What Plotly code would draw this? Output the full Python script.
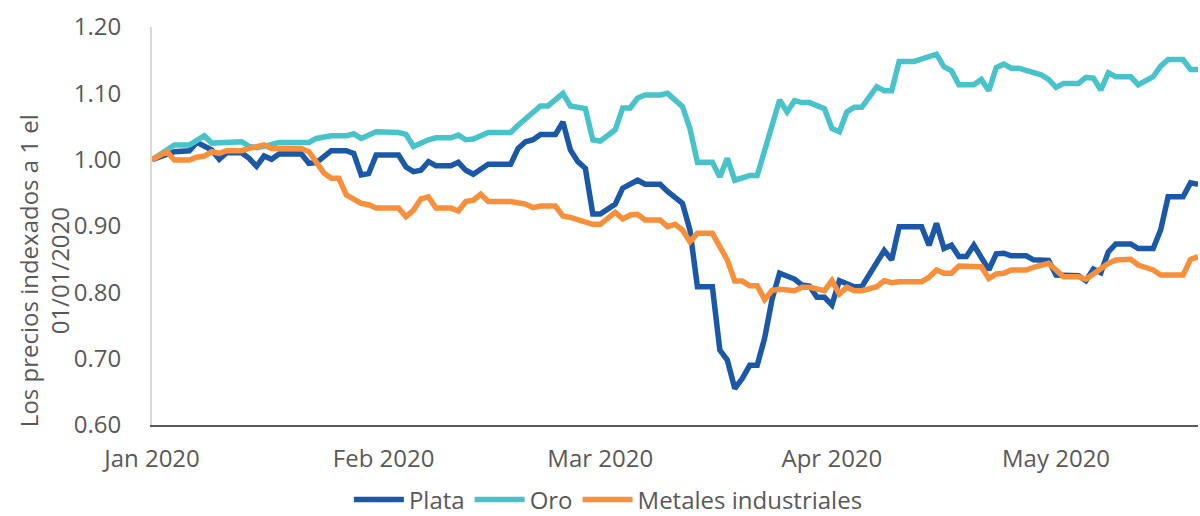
import pandas as pd
import plotly.graph_objects as go

BASE = "2020-01-01"

# Day offsets from 1 Jan 2020 and index values (1 = 01/01/2020)
plata_days = [0, 3, 5, 6, 8, 9, 10, 12, 13, 14, 15, 16, 17, 20, 21, 22, 24, 26, 27, 28, 29, 30, 33, 34, 35, 36, 37, 38, 40,
              41, 42, 43, 45, 48, 49, 50, 51, 52, 54, 55, 56, 57, 58, 59, 60, 62, 63, 64, 65, 66, 68, 69, 70, 71, 72, 73,
              75, 76, 77, 78, 79, 80, 81, 82, 83, 84, 86, 87, 88, 89, 90, 91, 92, 94, 95, 97, 98, 99, 100, 103, 104, 105,
              106, 107, 108, 109, 110, 112, 113, 114, 115, 117, 118, 120, 121, 124, 125, 126, 127, 128, 129, 131, 132,
              134, 135, 136, 138, 139, 140]
plata_vals = [1.000, 1.012, 1.0135, 1.026, 1.0146, 1.0006, 1.0105, 1.0105, 1.002, 0.990, 1.0055, 1.0006, 1.0086, 1.0086,
              0.9945, 0.9955, 1.0135, 1.0135, 1.0096, 0.977, 0.979, 1.007, 1.007, 0.989, 0.982, 0.984, 0.997, 0.991, 0.991,
              0.996, 0.984, 0.978, 0.993, 0.993, 1.017, 1.027, 1.030, 1.038, 1.038, 1.057, 1.0146, 0.997, 0.987, 0.918,
              0.918, 0.933, 0.957, 0.962, 0.969, 0.963, 0.963, 0.952, 0.944, 0.934, 0.894, 0.8085, 0.8085, 0.713, 0.698,
              0.655, 0.670, 0.690, 0.690, 0.731, 0.790, 0.829, 0.820, 0.811, 0.8095, 0.7925, 0.7925, 0.781, 0.8175,
              0.8085, 0.8085, 0.846, 0.863, 0.849, 0.899, 0.899, 0.871, 0.904, 0.866, 0.871, 0.854, 0.854, 0.871, 0.834,
              0.858, 0.859, 0.855, 0.855, 0.849, 0.848, 0.826, 0.825, 0.8175, 0.835, 0.8296, 0.861, 0.873, 0.873, 0.866,
              0.866, 0.894, 0.944, 0.944, 0.965, 0.963]

oro_days = [0, 3, 5, 7, 8, 10, 12, 13, 14, 15, 17, 21, 22, 24, 26, 27, 28, 30, 33, 34, 35, 37, 38, 40, 41, 42, 43, 45, 48,
            49, 50, 52, 53, 55, 56, 57, 58, 59, 60, 62, 63, 64, 65, 66, 68, 69, 71, 72, 73, 75, 76, 77, 78, 80, 81, 84,
            85, 86, 87, 88, 90, 91, 92, 93, 94, 95, 97, 98, 99, 100, 102, 105, 106, 107, 108, 110, 111, 112, 113, 114,
            115, 116, 118, 119, 120, 121, 122, 124, 125, 126, 127, 128, 129, 131, 132, 133, 134, 135, 136, 138, 139, 140]
oro_vals = [1.000, 1.022, 1.022, 1.036, 1.025, 1.027, 1.027, 1.020, 1.018, 1.020, 1.026, 1.026, 1.032, 1.036, 1.036, 1.039,
            1.032, 1.042, 1.041, 1.038, 1.020, 1.030, 1.033, 1.033, 1.037, 1.030, 1.031, 1.041, 1.041, 1.052, 1.062,
            1.081, 1.081, 1.100, 1.081, 1.078, 1.077, 1.030, 1.028, 1.045, 1.078, 1.078, 1.093, 1.0975, 1.0975, 1.100,
            1.080, 1.047, 0.996, 0.996, 0.974, 1.002, 0.969, 0.976, 0.976, 1.090, 1.072, 1.089, 1.086, 1.086, 1.077,
            1.047, 1.042, 1.072, 1.079, 1.079, 1.110, 1.104, 1.104, 1.148, 1.148, 1.159, 1.140, 1.134, 1.113, 1.113,
            1.121, 1.104, 1.139, 1.144, 1.138, 1.138, 1.130, 1.128, 1.121, 1.109, 1.115, 1.115, 1.124, 1.123, 1.105,
            1.131, 1.125, 1.125, 1.113, 1.118, 1.125, 1.141, 1.151, 1.151, 1.136, 1.136]

metales_days = [0, 2, 3, 5, 6, 7, 8, 9, 10, 12, 13, 15, 16, 20, 21, 22, 23, 24, 25, 26, 28, 29, 30, 33, 34, 35, 36, 37,
                38, 40, 41, 42, 43, 44, 45, 48, 49, 50, 51, 52, 54, 55, 56, 58, 59, 60, 62, 63, 64, 65, 66, 68, 69, 70,
                71, 72, 73, 75, 76, 77, 78, 79, 80, 81, 82, 83, 84, 86, 87, 88, 90, 91, 92, 93, 94, 95, 97, 98, 99, 100,
                103, 104, 105, 106, 107, 108, 111, 112, 113, 114, 115, 117, 118, 120, 121, 122, 124, 125, 126, 128, 129,
                131, 132, 134, 135, 138, 139, 140]
metales_vals = [1.000, 1.012, 0.9995, 0.9995, 1.0036, 1.0055, 1.012, 1.0096, 1.0135, 1.0135, 1.017, 1.0222, 1.017, 1.017,
                1.012, 0.9945, 0.980, 0.972, 0.972, 0.947, 0.934, 0.932, 0.927, 0.927, 0.914, 0.924, 0.941, 0.944, 0.927,
                0.927, 0.9226, 0.937, 0.939, 0.948, 0.937, 0.937, 0.934, 0.933, 0.9276, 0.930, 0.930, 0.915, 0.913,
                0.9065, 0.9026, 0.9026, 0.9207, 0.9105, 0.9166, 0.9176, 0.909, 0.909, 0.899, 0.9026, 0.894, 0.8764,
                0.889, 0.889, 0.8688, 0.8488, 0.817, 0.817, 0.810, 0.810, 0.789, 0.803, 0.8046, 0.8025, 0.8076, 0.8076,
                0.8025, 0.8176, 0.7975, 0.8076, 0.8025, 0.8025, 0.8085, 0.8176, 0.8146, 0.816, 0.816, 0.8227, 0.8337,
                0.8287, 0.8287, 0.8397, 0.8387, 0.821, 0.8277, 0.8287, 0.8337, 0.8337, 0.8378, 0.8438, 0.8337, 0.8236,
                0.8236, 0.8197, 0.8277, 0.8438, 0.8488, 0.8497, 0.8412, 0.8337, 0.826, 0.826, 0.8497, 0.8537]

series_names = ["Plata", "Oro", "Metales industriales"]
tick_dates = ["2020-01-01", "2020-02-01", "2020-03-01", "2020-04-01", "2020-05-01"]
tick_text = ["Jan 2020", "Feb 2020", "Mar 2020", "Apr 2020", "May 2020"]
y_ticks = [0.60, 0.70, 0.80, 0.90, 1.00, 1.10, 1.20]
y_title = "Los precios indexados a 1 el<br>01/01/2020"


def to_dates(days):
    return pd.Timestamp(BASE) + pd.to_timedelta(days, unit="D")


colors = ["#1b59a8", "#48c3c9", "#f78f3b"]
data = [(plata_days, plata_vals), (oro_days, oro_vals), (metales_days, metales_vals)]

FONT = "'Open Sans', Lato, sans-serif"
GREY = "#595959"
FS = 24

fig = go.Figure()
for name, (d, v), c in zip(series_names, data, colors):
    fig.add_trace(go.Scatter(x=to_dates(d), y=v, mode="lines", name=name,
                             line=dict(color=c, width=5.5, shape="linear")))

fig.update_layout(
    width=1200, height=516,
    margin=dict(l=152, r=2, t=27, b=91),
    paper_bgcolor="white", plot_bgcolor="white",
    font=dict(family=FONT, size=FS, color=GREY, weight=400),
    showlegend=True,
    legend=dict(orientation="h", xref="container", yref="container",
                x=0.507, xanchor="center", y=0.031, yanchor="middle",
                font=dict(size=FS, color=GREY, family=FONT, weight=400),
                itemwidth=50, tracegroupgap=0, traceorder="normal"),
    xaxis=dict(type="date", range=["2020-01-01", "2020-05-20"],
               tickmode="array", tickvals=tick_dates, ticktext=tick_text,
               showgrid=False, zeroline=False, showline=True,
               linecolor="#595959", linewidth=2, ticks="", ticklabelstandoff=11),
    yaxis=dict(range=[0.6, 1.2], tickmode="array", tickvals=y_ticks,
               tickformat=".2f", showgrid=False, zeroline=False,
               showline=True, linecolor="#d9d9d9", linewidth=2, ticks="",
               ticklabelstandoff=24),
)

fig.add_annotation(text=y_title, textangle=-90, xref="paper", yref="paper",
                   x=-0.1033, y=0.389, xanchor="center", yanchor="middle",
                   showarrow=False, font=dict(size=FS, color=GREY, family=FONT, weight=400))

fig.write_html("out.html", config={"displayModeBar": False},
               post_script="document.body.style.margin='0';document.body.style.overflow='hidden';")
